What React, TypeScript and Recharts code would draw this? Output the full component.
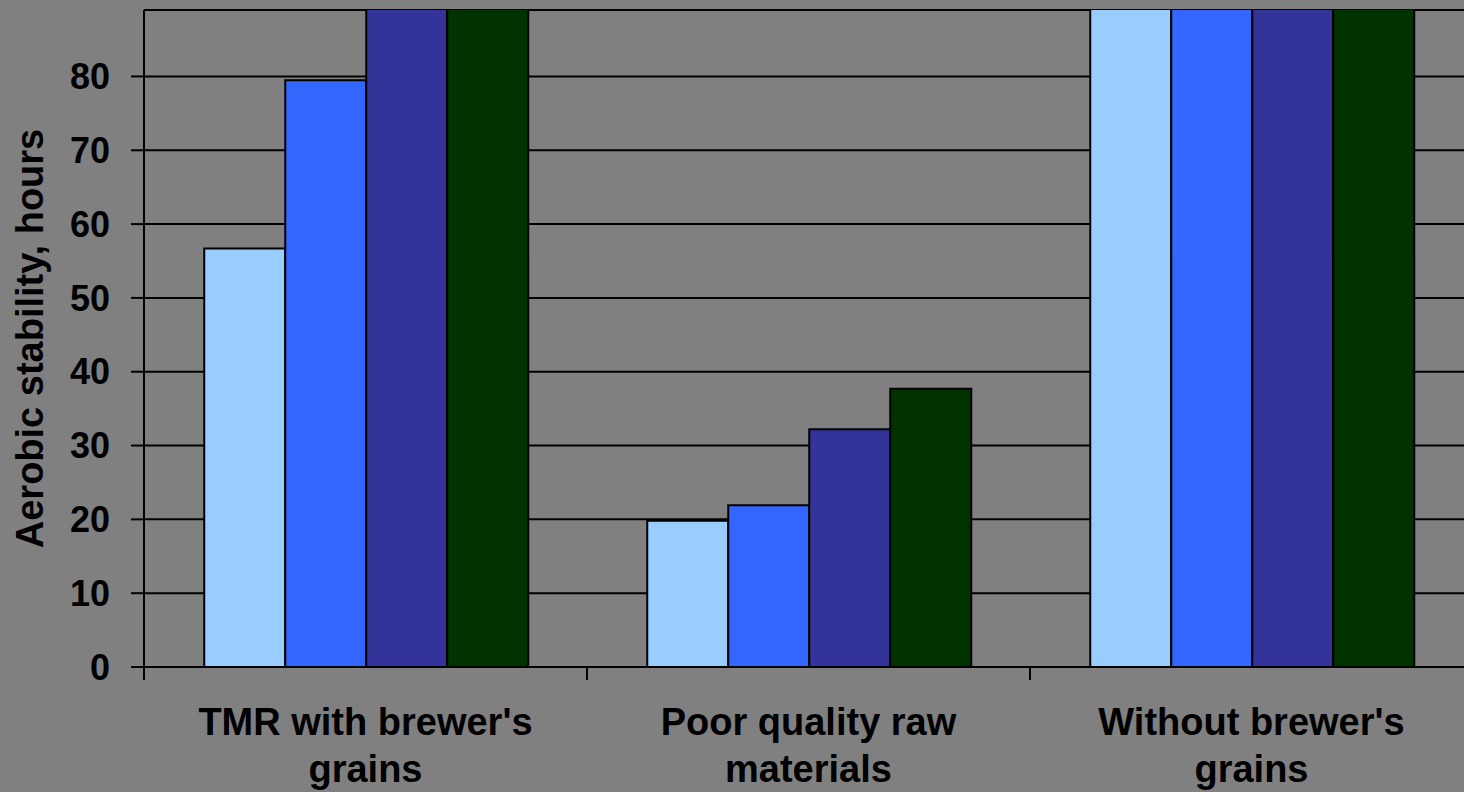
import React from 'react';
import { BarChart, Bar, XAxis, YAxis, CartesianGrid } from 'recharts';

// categories on the x axis
const categories = [
  "TMR with brewer's grains",
  'Poor quality raw materials',
  "Without brewer's grains",
];

// four treatments per group (bars above the visible top are cut off in the original)
const series1 = [56.7, 19.8, 95];
const series2 = [79.5, 21.9, 95];
const series3 = [95, 32.2, 95];
const series4 = [95, 37.7, 95];

const yTicks = [0, 10, 20, 30, 40, 50, 60, 70, 80];

const colors = ['#99CCFF', '#3366FF', '#333399', '#003300'];

const data = categories.map((name, i) => ({
  name,
  s1: series1[i],
  s2: series2[i],
  s3: series3[i],
  s4: series4[i],
}));

const fontFamily = '"Liberation Sans", Arial, sans-serif';

const CategoryTick = (props: any) => {
  const { x, y, payload } = props;
  const label = String(payload.value);
  const cut = label.lastIndexOf(' ');
  const lines = [label.slice(0, cut), label.slice(cut + 1)];
  const half = payload.offset || 0;
  return (
    <g>
      <line x1={x - half} x2={x - half} y1={y - 13} y2={y} stroke="#000" strokeWidth={2} />
      <text
        x={x}
        y={y}
        textAnchor="middle"
        fill="#000"
        style={{ fontFamily, fontSize: 38, fontWeight: 700 }}
      >
        {lines.map((line, i) => (
          <tspan key={i} x={x} dy={i === 0 ? 55 : 47}>
            {line}
          </tspan>
        ))}
      </text>
    </g>
  );
};

const YTitle = (props: any) => {
  const { viewBox } = props;
  const bx = viewBox.x + 43;
  const cy = viewBox.y + viewBox.height / 2;
  return (
    <text
      x={bx}
      y={cy}
      transform={`rotate(-90 ${bx} ${cy})`}
      textAnchor="middle"
      fill="#000"
      style={{ fontFamily, fontSize: 38, fontWeight: 700 }}
    >
      Aerobic stability, hours
    </text>
  );
};

const App = () => {
  return (
    <div
      style={{
        position: 'absolute',
        top: 0,
        left: 0,
        width: 1464,
        height: 792,
        overflow: 'hidden',
        background: '#808080',
      }}
    >
      <BarChart
        width={1480}
        height={792}
        data={data}
        margin={{ top: 10, right: 7, bottom: 0, left: 0 }}
        barCategoryGap="13.6%"
        barGap={0}
      >
        <CartesianGrid vertical={false} stroke="#000" strokeWidth={2} />
        <XAxis
          dataKey="name"
          height={125}
          tickLine={false}
          tickSize={13}
          tickMargin={0}
          axisLine={{ stroke: '#000', strokeWidth: 2 }}
          tick={<CategoryTick />}
          interval={0}
        />
        <YAxis
          width={144}
          domain={[0, 89]}
          allowDataOverflow
          ticks={yTicks}
          tickSize={13}
          tickMargin={21}
          tickLine={{ stroke: '#000', strokeWidth: 2 }}
          axisLine={{ stroke: '#000', strokeWidth: 2 }}
          tick={{ fill: '#000', fontFamily, fontSize: 36, fontWeight: 700 }}
          label={<YTitle />}
        />
        {['s1', 's2', 's3', 's4'].map((key, i) => (
          <Bar
            key={key}
            dataKey={key}
            fill={colors[i]}
            stroke="#000"
            strokeWidth={2}
            isAnimationActive={false}
          />
        ))}
      </BarChart>
    </div>
  );
};

export default App;
